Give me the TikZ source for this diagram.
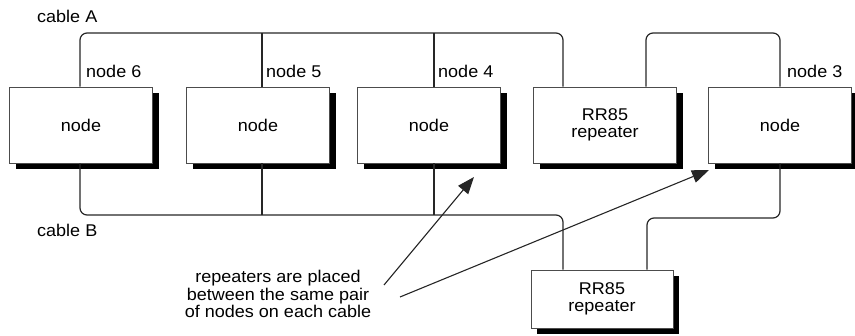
\documentclass[tikz,border=0pt]{standalone}
\usepackage{fontspec}
\setmainfont{Liberation Sans}[FakeStretch=1.06]
\usetikzlibrary{shadows,arrows.meta,calc}
\begin{document}
\begin{tikzpicture}[x=1pt,y=-1pt,
  every node/.style={font=\fontsize{17}{17.5}\selectfont},
  box/.style={draw=black!70,line width=0.9pt,fill=white,minimum width=143pt,minimum height=76pt,
    align=center,inner sep=0pt,
    drop shadow={shadow xshift=6pt,shadow yshift=-6pt,fill=black,opacity=1}},
  cable/.style={draw=black!85,line width=1.2pt},
  lbl/.style={anchor=base west,inner sep=0pt},
  pointer/.style={draw=black!85,line width=1.1pt,-{Triangle[length=17pt,width=13pt]}}]
\useasboundingbox (0,0) rectangle (855,336);
% boxes
\node[box] (n6) at (81,125) {node};
\node[box] (n5) at (258,125) {node};
\node[box] (n4) at (429,125) {node};
\node[box] (r1) at (605,125) {RR85\\repeater};
\node[box] (n3) at (780,125) {node};
\node[box,minimum width=142pt,minimum height=58pt] (r2) at (602,299) {RR85\\repeater};
% cable A
\coordinate (aTop) at (0,33);
\draw[cable,rounded corners=7pt] ([xshift=-1]n6.north) -- ([xshift=-1]n6.north |- aTop) -- ([xshift=-42]r1.north |- aTop) -- ([xshift=-42]r1.north);
\draw[cable] ([xshift=4]n5.north) -- ([xshift=4]n5.north |- aTop);
\draw[cable] ([xshift=5]n4.north) -- ([xshift=5]n4.north |- aTop);
\draw[cable,rounded corners=7pt] ([xshift=41]r1.north) -- ([xshift=41]r1.north |- aTop) -- (n3.north |- aTop) -- (n3.north);
% cable B
\coordinate (bLow) at (0,215);
\coordinate (bLow2) at (0,218);
\draw[cable,rounded corners=7pt] ([xshift=-1]n6.south) -- ([xshift=-1]n6.south |- bLow) -- ([xshift=-39]r2.north |- bLow) -- ([xshift=-39]r2.north);
\draw[cable] ([xshift=4]n5.south) -- ([xshift=4]n5.south |- bLow);
\draw[cable] ([xshift=5]n4.south) -- ([xshift=5]n4.south |- bLow);
\draw[cable,rounded corners=7pt] ([xshift=45]r2.north) -- ([xshift=45]r2.north |- bLow2) -- (n3.south |- bLow2) -- (n3.south);
% labels
\node[lbl] (ca) at (37,23) {cable A};
\node[lbl] (cb) at (37,237) {cable B};
\node[lbl] (l6) at (86,78) {node 6};
\node[lbl] (l5) at (266,78) {node 5};
\node[lbl] (l4) at (438,78) {node 4};
\node[lbl] (l3) at (787,78) {node 3};
% note
\node[align=center,inner sep=0pt,anchor=north] (note) at (278,270) {repeaters are placed\\between the same pair\\of nodes on each cable};
\coordinate (p1) at (384,285);
\coordinate (p2) at (400,297);
\coordinate (t1) at (474,177);
\coordinate (t2) at (709,170);
\draw[pointer] (p1) -- (t1);
\draw[pointer] (p2) -- (t2);
\end{tikzpicture}
\end{document}
